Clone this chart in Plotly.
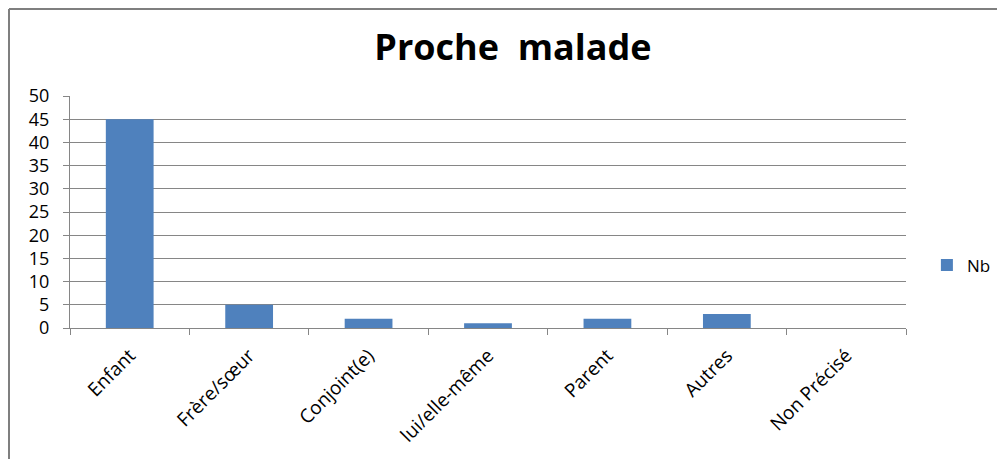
import plotly.graph_objects as go

categories = ["Enfant", "Frère/sœur", "Conjoint(e)", "lui/elle-même", "Parent", "Autres", "Non Précisé"]
nb = [45, 5, 2, 1, 2, 3, 0]
y_ticks = [0, 5, 10, 15, 20, 25, 30, 35, 40, 45, 50]

# page has an 8px body margin, so the figure is drawn 8px smaller
W, H = 997, 451
L, R, T, B = 62, 99, 88, 131
pw, ph = W - L - R, H - T - B

fig = go.Figure(go.Bar(x=categories, y=nb, name="Nb", marker_color="#4F81BD",
                       marker_line_width=0))

fig.update_layout(
    width=W, height=H,
    margin=dict(l=L, r=R, t=T, b=B, autoexpand=False),
    paper_bgcolor="white", plot_bgcolor="white",
    bargap=0.6,
    showlegend=True,
    font=dict(family="Open Sans, DejaVu Sans", color="#000000"),
    title=dict(text="<b>Proche  malade</b>", x=(513 - 8) / W, xanchor="center",
               y=1 - (47 - 8) / H, yanchor="middle",
               font=dict(size=36, family="Open Sans, DejaVu Sans")),
    legend=dict(x=1.025, xanchor="left", y=0.27, yanchor="middle",
                font=dict(size=17), itemwidth=30),
)

fig.update_xaxes(
    tickangle=-45, tickfont=dict(size=19),
    showline=True, linecolor="#868686", linewidth=1,
    ticks="outside", tickson="boundaries", ticklen=6, tickcolor="#868686",
    ticklabelstandoff=8,
    showgrid=False, automargin=False,
)
fig.update_yaxes(
    range=[0, 50], tickvals=y_ticks, tickfont=dict(size=18),
    showline=True, linecolor="#868686", linewidth=1,
    ticks="outside", ticklen=6, tickcolor="#868686",
    ticklabelstandoff=10,
    showgrid=True, gridcolor="#868686", gridwidth=1, zeroline=False,
    automargin=False,
)

# chart frame (left and top edges visible)
fx = (1 - L) / pw
fy = (H - B - 1) / ph
fig.add_shape(type="line", xref="paper", yref="paper", x0=fx, x1=fx,
              y0=-2, y1=fy, line=dict(color="#7F7F7F", width=2))
fig.add_shape(type="line", xref="paper", yref="paper", x0=fx, x1=2,
              y0=fy, y1=fy, line=dict(color="#7F7F7F", width=2))

fig.write_html("out.html")
